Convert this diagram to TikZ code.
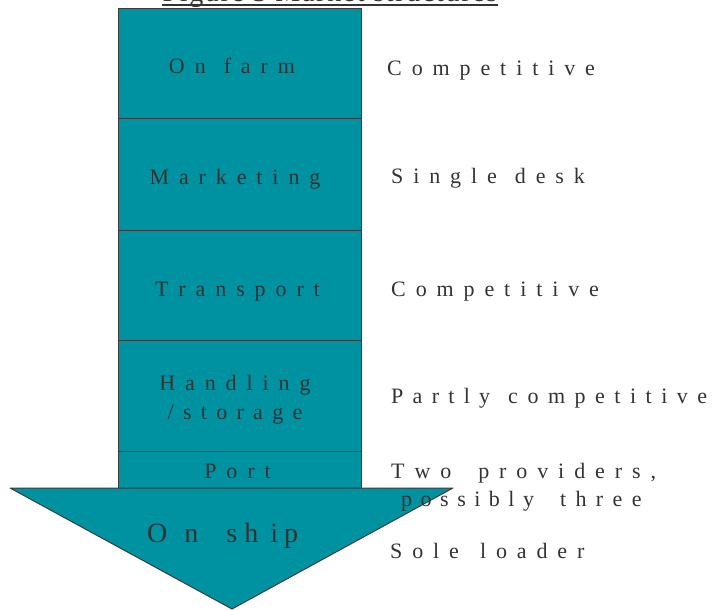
\documentclass[tikz,border=0pt]{standalone}
\usepackage{fontspec}
\setmainfont{Liberation Serif}
\newfontfamily\titlefont[LetterSpace=6]{Liberation Serif}
\makeatletter
\newcommand\lspword[2]{\@tfor\lspch:=#2\do{\lspch\kern#1\relax}\unkern}
\makeatother
% small labels: letter gap 9.9pt
\newcommand\sw[1]{\lspword{9.9pt}{#1}}
\newcommand\wg[1]{\kern#1\relax}
\definecolor{teal1}{RGB}{0,146,160}
\definecolor{txt}{RGB}{51,51,51}
\definecolor{edge}{RGB}{60,60,60}
\begin{document}
\begin{tikzpicture}[x=1pt,y=-1pt,
  stage/.style={draw=edge,line width=1pt,fill=teal1},
  lbl/.style={font=\fontsize{22}{26}\selectfont,text=txt,inner sep=0pt,anchor=base},
  rlbl/.style={lbl,anchor=base west},
  big/.style={font=\fontsize{28}{32}\selectfont,text=txt,inner sep=0pt,anchor=base west}]
\useasboundingbox (0,0) rectangle (713,610);
\clip (0,0) rectangle (713,610);
\node[font=\titlefont\fontsize{28}{32}\selectfont,text=txt,inner sep=0pt,anchor=base] (title) at (330,2) {Figure 3 Market structures};
\draw[txt,line width=2pt] ([yshift=-3pt]title.base west) -- ([yshift=-3pt]title.base east);
\path[stage] (118,9) rectangle (361,119);
\path[stage] (118,119) rectangle (361,230);
\path[stage] (118,230) rectangle (361,340);
\path[stage] (118,340) rectangle (361,451);
\path[stage] (118,451) rectangle (361,490);
\node[lbl] (farm) at (232,74) {\sw{On}\wg{18pt}\sw{farm}};
\node[lbl] (mkt) at (235,184) {\sw{Marketing}};
\node[lbl] (trans) at (237.5,296) {\sw{Transport}};
\node[lbl] (hand) at (235,390) {\sw{Handling}};
\node[lbl] (stor) at (235,419) {\lspword{9.3pt}{/storage}};
\node[lbl] (port) at (237.5,478) {\sw{Port}};
\path[stage,line join=round] (10,488) -- (453,488) -- (232,609) -- cycle;
\node[big] (ship) at (147,542) {O\kern17pt n\kern28pt s\kern7pt h\kern12pt i\kern6pt p};
\node[rlbl] (r1) at (387,76) {\sw{Competitive}};
\node[rlbl] (r2) at (391,183) {\sw{Single}\wg{18pt}\sw{desk}};
\node[rlbl] (r3) at (391,296) {\sw{Competitive}};
\node[rlbl] (r4) at (391,403) {\lspword{9.3pt}{Partly}\wg{18pt}\lspword{9.5pt}{competitive}};
\node[rlbl] (r5) at (391,478) {\sw{Two}\wg{27pt}\sw{providers,}};
\node[rlbl] (r6) at (401,506) {\lspword{8.5pt}{possibly}\wg{26pt}\lspword{9.4pt}{three}};
\node[rlbl] (r7) at (390,558) {\sw{Sole}\wg{21pt}\sw{loader}};
\end{tikzpicture}
\end{document}
